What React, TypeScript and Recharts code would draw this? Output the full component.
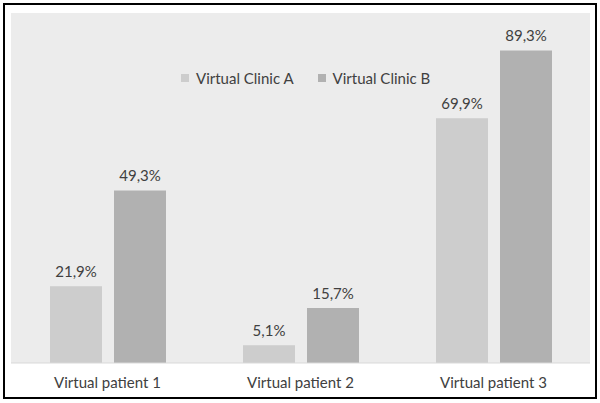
import React from 'react';
import { BarChart, Bar, XAxis, YAxis, CartesianGrid, LabelList } from 'recharts';

const patients = ['Virtual patient 1', 'Virtual patient 2', 'Virtual patient 3'];
const clinicA = [21.9, 5.1, 69.9];
const clinicB = [49.3, 15.7, 89.3];

const SERIES = [
  { key: 'a', name: 'Virtual Clinic A', color: '#cdcdcd' },
  { key: 'b', name: 'Virtual Clinic B', color: '#b1b1b1' },
];

const FONT = 'Lato, "Open Sans", sans-serif';
const TEXT = '#404040';

const fmt = (v: any) => `${Number(v).toFixed(1).replace('.', ',')}%`;

// legend sits inside the plot, so it's drawn as an overlay instead of recharts' Legend (which reserves space)
const LegendBox = () => (
  <div
    style={{
      position: 'absolute',
      left: 176,
      top: 64,
      display: 'flex',
      alignItems: 'center',
      fontFamily: FONT,
      fontSize: 15,
      color: TEXT,
    }}
  >
    {SERIES.map(s => (
      <div key={s.key} style={{ display: 'flex', alignItems: 'center', marginRight: 24 }}>
        <span style={{ width: 8, height: 8, background: s.color, marginRight: 7, display: 'inline-block' }} />
        <span>{s.name}</span>
      </div>
    ))}
  </div>
);

export default function App() {
  const data = patients.map((p, i) => ({ name: p, a: clinicA[i], b: clinicB[i] }));

  return (
    <div
      style={{
        position: 'absolute',
        left: 3,
        top: 3,
        width: 594,
        height: 396,
        border: '2px solid #000',
        boxSizing: 'border-box',
        background: '#fff',
      }}
    >
      <BarChart
        width={590}
        height={392}
        data={data}
        margin={{ top: 8, right: 5, bottom: 4, left: 6 }}
        barCategoryGap={39}
        barGap={12}
      >
        <CartesianGrid horizontal={false} vertical={false} fill="#ececec" />
        <XAxis
          dataKey="name"
          axisLine={{ stroke: '#d9d9d9' }}
          tickLine={false}
          height={30}
          tickMargin={8}
          tick={{ fill: TEXT, fontSize: 15, fontFamily: FONT }}
        />
        <YAxis hide domain={[0, 100]} />
        {SERIES.map(s => (
          <Bar key={s.key} dataKey={s.key} name={s.name} fill={s.color} isAnimationActive={false}>
            <LabelList
              dataKey={s.key}
              position="top"
              offset={9}
              formatter={fmt}
              style={{ fill: TEXT, fontSize: 15, fontFamily: FONT }}
            />
          </Bar>
        ))}
      </BarChart>
      <LegendBox />
    </div>
  );
}
